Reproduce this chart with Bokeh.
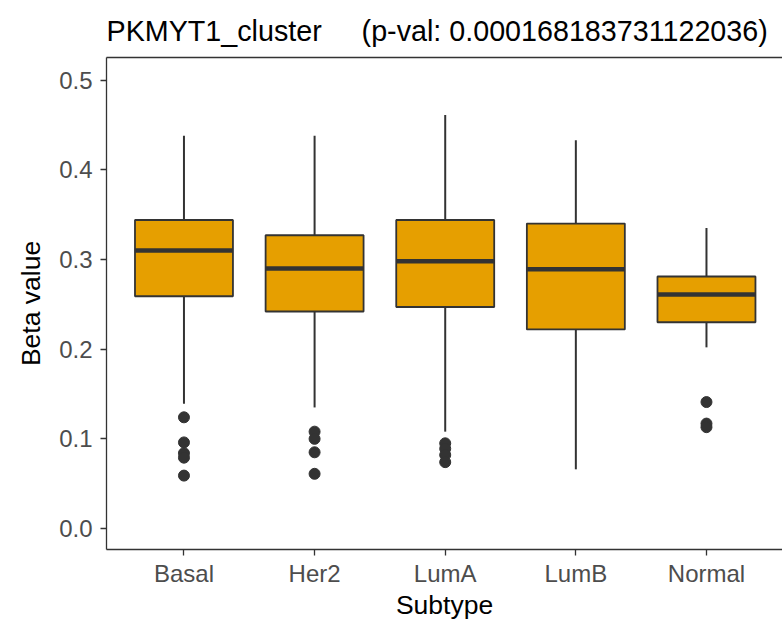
from bokeh.plotting import figure
from bokeh.models import Range1d, FixedTicker, LinearAxis, PrintfTickFormatter, ColumnDataSource
from bokeh.embed import file_html
from bokeh.resources import INLINE

# ---- data ----
categories = ["Basal", "Her2", "LumA", "LumB", "Normal"]
q1 = [0.259, 0.242, 0.247, 0.222, 0.230]
median = [0.310, 0.290, 0.298, 0.289, 0.261]
q3 = [0.344, 0.327, 0.344, 0.340, 0.281]
upper_whisker = [0.438, 0.438, 0.461, 0.433, 0.335]
lower_whisker = [0.139, 0.135, 0.108, 0.066, 0.202]

outlier_groups = ["Basal"] * 5 + ["Her2"] * 4 + ["LumA"] * 4 + ["Normal"] * 3
outlier_values = [0.124, 0.096, 0.084, 0.079, 0.059,
                  0.108, 0.100, 0.085, 0.061,
                  0.095, 0.089, 0.082, 0.074,
                  0.141, 0.117, 0.113]

y_ticks = [0.0, 0.1, 0.2, 0.3, 0.4, 0.5]
y_minor = [0.05, 0.15, 0.25, 0.35, 0.45]

gene = "PKMYT1_cluster"
pval = "0.000168183731122036"
# the gap between the two parts of the title is kept with non-breaking spaces
title_text = gene + "\u00a0\u00a0\u00a0\u00a0 (p-val: " + pval + ")"

# ---- derived ----
box_width = 0.75
xpos = [i + 1 for i in range(len(categories))]
pos = dict(zip(categories, xpos))
src = ColumnDataSource(dict(
    x=xpos, q1=q1, med=median, q3=q3, up=upper_whisker, lo=lower_whisker,
    xl=[x - box_width / 2 for x in xpos], xr=[x + box_width / 2 for x in xpos],
))
out_src = ColumnDataSource(dict(x=[pos[g] for g in outlier_groups], y=outlier_values))

FONT = "Liberation Sans"
DARK = "#333333"
GRID = "#EBEBEB"

p = figure(frame_width=676, frame_height=492, output_backend="svg", toolbar_location=None,
           x_range=Range1d(0.407, 5.582), y_range=Range1d(-0.0234, 0.5252),
           min_border_left=106, min_border_right=0, min_border_top=57, min_border_bottom=0,
           x_axis_type=None, y_axis_type=None)
p.outline_line_color = None
p.background_fill_color = "white"
p.border_fill_color = "white"

p.title.text = title_text
p.title.text_font = FONT
p.title.text_font_size = "28.7px"
p.title.text_font_style = "normal"
p.title.text_color = "black"
p.title.align = "left"
p.title.standoff = 21

xt = FixedTicker(ticks=xpos)
yt = FixedTicker(ticks=y_ticks, minor_ticks=y_minor)

xaxis = LinearAxis(ticker=xt, major_label_overrides={x: c for x, c in zip(xpos, categories)},
                   axis_label="Subtype")
yaxis = LinearAxis(ticker=yt, formatter=PrintfTickFormatter(format="%.1f"), axis_label="Beta value")
for ax in (xaxis, yaxis):
    ax.axis_line_color = DARK
    ax.axis_line_width = 1.3
    ax.major_tick_line_color = DARK
    ax.major_tick_line_width = 1.3
    ax.major_tick_in = 0
    ax.major_tick_out = 6
    ax.minor_tick_line_color = None
    ax.major_label_text_font = FONT
    ax.major_label_text_font_size = "24px"
    ax.major_label_text_color = "#4D4D4D"
    ax.axis_label_text_font = FONT
    ax.axis_label_text_font_size = "26.5px"
    ax.axis_label_text_font_style = "normal"
    ax.axis_label_text_color = "black"
xaxis.major_label_standoff = 4
xaxis.axis_label_standoff = 0
yaxis.major_label_standoff = 8
yaxis.axis_label_standoff = 10
p.add_layout(xaxis, "below")
p.add_layout(yaxis, "left")

top = LinearAxis(ticker=FixedTicker(ticks=[]), major_label_text_font_size="0px",
                 major_tick_line_color=None, minor_tick_line_color=None,
                 axis_line_color=DARK, axis_line_width=1.3, major_label_standoff=0,
                 major_tick_out=0, major_tick_in=0)
p.add_layout(top, "above")

p.xgrid.ticker = xt
p.ygrid.ticker = yt
for g in (p.xgrid, p.ygrid):
    g.grid_line_color = GRID
    g.grid_line_width = 1.4
p.ygrid.minor_grid_line_color = GRID
p.ygrid.minor_grid_line_width = 0.8

# whiskers
p.segment(x0="x", y0="q3", x1="x", y1="up", source=src, line_color=DARK, line_width=2)
p.segment(x0="x", y0="q1", x1="x", y1="lo", source=src, line_color=DARK, line_width=2)
# boxes
p.vbar(x="x", width=box_width, bottom="q1", top="q3", source=src,
       fill_color="#E69F00", line_color=DARK, line_width=1.8)
# medians
p.segment(x0="xl", y0="med", x1="xr", y1="med", source=src, line_color=DARK, line_width=4.5)
# outliers
p.scatter(x="x", y="y", source=out_src, size=11, fill_color=DARK, line_color=DARK)

open("out.html", "w").write(file_html(p, INLINE))
